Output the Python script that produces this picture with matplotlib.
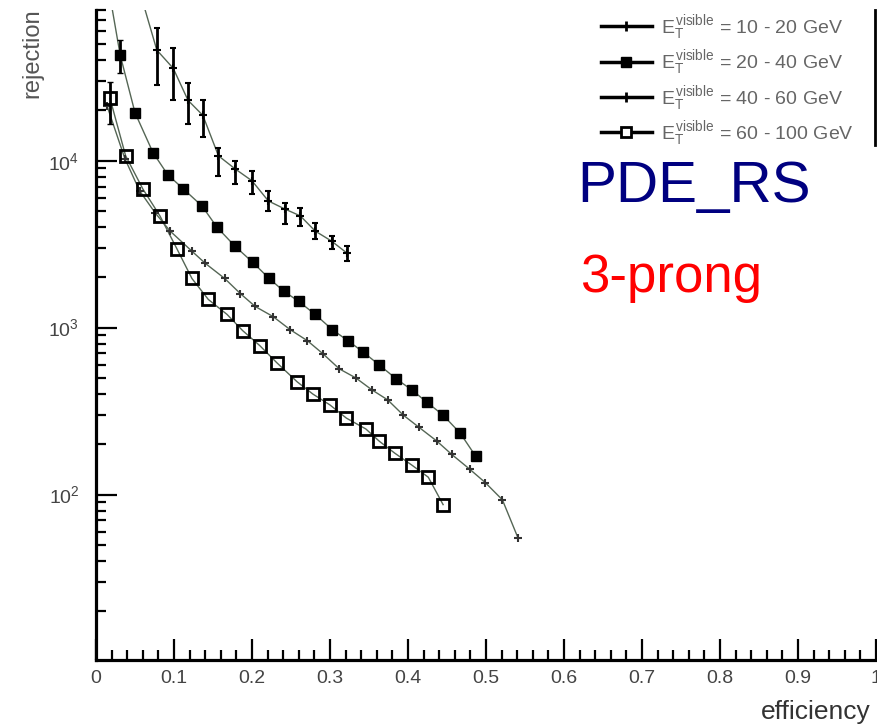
import numpy as np
import matplotlib
matplotlib.use('Agg')
import matplotlib.pyplot as plt
from matplotlib.lines import Line2D
from matplotlib.ticker import MultipleLocator, FuncFormatter, LogLocator

plt.rcParams['font.family'] = ['Liberation Sans', 'DejaVu Sans']
plt.rcParams['mathtext.fontset'] = 'custom'
plt.rcParams['mathtext.rm'] = 'Liberation Sans'
plt.rcParams['mathtext.it'] = 'Liberation Sans'

# E_T visible = 10 - 20 GeV
eff1 = [0.078, 0.099, 0.118, 0.137, 0.157, 0.178, 0.200, 0.221, 0.242, 0.262, 0.281, 0.302, 0.322]
rej1 = [46000, 35800, 23000, 18700, 10700, 8960, 7580, 5740, 5140, 4670, 3790, 3300, 2790]
rej1_lo = [28300, 23000, 16700, 13800, 8130, 7260, 6320, 5000, 4170, 4060, 3390, 2950, 2500]
rej1_hi = [62400, 47300, 29100, 23000, 12000, 10000, 8710, 6600, 5590, 5210, 4230, 3530, 3080]
start1 = (0.063, 80000)

# E_T visible = 20 - 40 GeV
eff2 = [0.031, 0.050, 0.073, 0.092, 0.112, 0.136, 0.155, 0.178, 0.201, 0.222, 0.241, 0.260,
        0.281, 0.303, 0.323, 0.342, 0.363, 0.385, 0.405, 0.424, 0.445, 0.467, 0.487]
rej2 = [43000, 19400, 11200, 8240, 6780, 5350, 4000, 3080, 2460, 1970, 1650, 1435,
        1200, 972, 835, 717, 598, 493, 423, 358, 299, 233, 169]
rej2_err0 = (33400, 52800)
start2 = (0.021, 80000)

# E_T visible = 40 - 60 GeV
eff3 = [0.014, 0.037, 0.056, 0.076, 0.095, 0.123, 0.140, 0.165, 0.185, 0.204, 0.227, 0.249, 0.271,
        0.291, 0.312, 0.333, 0.354, 0.374, 0.394, 0.414, 0.437, 0.456, 0.479, 0.499, 0.521, 0.541]
rej3 = [21400, 10300, 6590, 4860, 3790, 2870, 2430, 1970, 1600, 1340, 1165, 972, 835,
        697, 566, 500, 423, 369, 299, 253, 209, 174, 142, 118, 93, 55]

# E_T visible = 60 - 100 GeV
eff4 = [0.018, 0.038, 0.060, 0.082, 0.104, 0.123, 0.144, 0.168, 0.188, 0.210, 0.232,
        0.258, 0.278, 0.300, 0.321, 0.346, 0.363, 0.383, 0.405, 0.426, 0.445]
rej4 = [23600, 10700, 6780, 4670, 2950, 1970, 1475, 1200, 960, 780, 615,
        473, 400, 344, 287, 247, 209, 177, 150, 127, 87]
rej4_err0 = (16500, 29500)

labels = [r'$E_T^{visible}$ = 10 - 20 GeV', r'$E_T^{visible}$ = 20 - 40 GeV',
          r'$E_T^{visible}$ = 40 - 60 GeV', r'$E_T^{visible}$ = 60 - 100 GeV']

fig = plt.figure(figsize=(8.78, 7.26), dpi=100)
ax = fig.add_axes([96/878, 66/726, 780/878, 650/726])
ax.set_yscale('log')
ax.set_xlim(0, 1)
ax.set_ylim(10.2, 80000)

lc = '#556655'
ax.plot([start1[0]] + eff1, [start1[1]] + rej1, color=lc, lw=1)
ax.plot([start2[0]] + eff2, [start2[1]] + rej2, color=lc, lw=1)
ax.plot(eff3, rej3, color=lc, lw=1)
ax.plot(eff4, rej4, color=lc, lw=1)

e1 = np.array(rej1)
ax.errorbar(eff1, rej1, yerr=[e1 - np.array(rej1_lo), np.array(rej1_hi) - e1],
            fmt='+', color='k', ms=6, mew=1.5, elinewidth=2, capsize=2, capthick=1.5)
ax.errorbar(eff2[:1], rej2[:1], yerr=[[rej2[0] - rej2_err0[0]], [rej2_err0[1] - rej2[0]]],
            fmt='none', ecolor='k', elinewidth=2, capsize=2)
ax.plot(eff2, rej2, 's', color='k', ms=6.5)
ax.plot(eff3, rej3, '+', color='#333333', ms=6, mew=1.5)
ax.errorbar(eff4[:1], rej4[:1], yerr=[[rej4[0] - rej4_err0[0]], [rej4_err0[1] - rej4[0]]],
            fmt='none', ecolor='k', elinewidth=2, capsize=2)
ax.plot(eff4, rej4, 's', mfc='none', mec='k', mew=2, ms=8.5)

for s in ['top', 'right']:
    ax.spines[s].set_visible(False)
for s in ['left', 'bottom']:
    ax.spines[s].set_linewidth(2.3)

ax.xaxis.set_major_locator(MultipleLocator(0.1))
ax.xaxis.set_minor_locator(MultipleLocator(0.02))
ax.xaxis.set_major_formatter(FuncFormatter(lambda v, p: '%g' % round(v, 2)))
ax.yaxis.set_major_locator(LogLocator(base=10, numticks=10))
ax.yaxis.set_minor_locator(LogLocator(base=10, subs=np.arange(2, 10), numticks=20))
ax.tick_params(which='both', direction='in', width=1.6, colors='k', labelcolor='#444444',
               labelsize=14)
ax.tick_params(which='major', length=15, pad=7)
ax.tick_params(which='minor', length=7.5)
ax.tick_params(axis='y', which='minor', labelleft=False)
ax.tick_params(axis='y', pad=12)

fig.text(32/878, 1 - 8/726, 'rejection', rotation=90, ha='center', va='top',
         fontsize=17, color='#555555')
fig.text(871/878, 1 - 712/726, 'efficiency', ha='right', va='center',
         fontsize=19, color='#333333')

fig.text(577/878, 1 - 202/726, 'PDE_RS', color='#000080', fontsize=42, va='baseline')
fig.text(580/878, 1 - 292/726, '3-prong', color='#ff0000', fontsize=38, va='baseline')

handles = [
    Line2D([], [], color='k', lw=2.5, marker='+', ms=7, mew=2),
    Line2D([], [], color='k', lw=2.5, marker='s', ms=6.5),
    Line2D([], [], color='k', lw=2.5, marker='+', ms=7, mew=2),
    Line2D([], [], color='k', lw=2.5, marker='s', ms=7, mfc='white', mew=2),
]
leg = fig.legend(handles, labels, loc='upper left', bbox_to_anchor=(601/878, 1 - 13/726),
                 frameon=False, fontsize=14, handlelength=2.6, handletextpad=0.5,
                 labelspacing=0.33, borderpad=0, borderaxespad=0)
for t in leg.get_texts():
    t.set_color('#666666')
fig.add_artist(Line2D([875/878, 875/878], [1 - 10/726, 1 - 145/726], color='k', lw=2))

fig.savefig('out.png', dpi=100)
